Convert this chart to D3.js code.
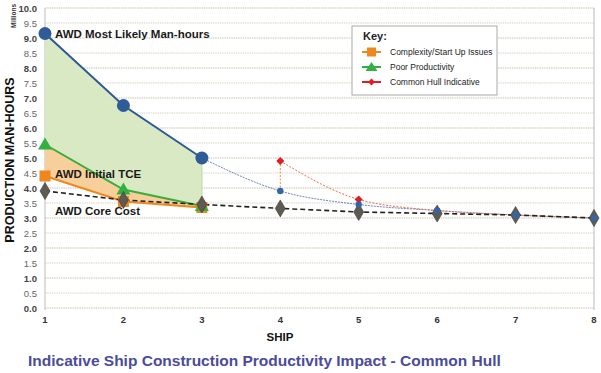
<!DOCTYPE html>
<html><head><meta charset="utf-8">
<script src="https://cdn.jsdelivr.net/npm/d3@7/dist/d3.min.js"></script>
<style>body{margin:0;background:#fff}svg{display:block}text{font-family:"Liberation Sans",Arial,sans-serif}</style>
</head><body><svg id="c" width="601" height="373"></svg>
<script>
const ships = [1,2,3,4,5,6,7,8];
const yTicks = [0,0.5,1,1.5,2,2.5,3,3.5,4,4.5,5,5.5,6,6.5,7,7.5,8,8.5,9,9.5,10];
const mostLikely = [9.15,6.75,5.0];
const mostLikelyTail = [5.0,3.9,3.45,3.25,3.1,3.0];
const coreCost = [3.9,3.6,3.45,3.32,3.2,3.15,3.1,3.0];
const complexity = [4.4,3.55,3.35];
const poorProd = [5.45,3.95,3.4];
const commonHull = [4.9,3.62,3.25,3.1,3.0];
const legendLabels = ["Complexity/Start Up Issues","Poor Productivity","Common Hull Indicative"];

const svg = d3.select("#c");
const x = d3.scaleLinear().domain([1,8]).range([45,594]);
const y = d3.scaleLinear().domain([0,10]).range([308,8]);

// gridlines
svg.append("g").selectAll("line").data(yTicks).join("line")
  .attr("x1",45).attr("x2",594).attr("y1",d=>y(d)).attr("y2",d=>y(d))
  .attr("stroke",d=>Number.isInteger(d)?"#c9c3b0":"#d9d4c4").attr("stroke-width",1.2)
  .attr("stroke-dasharray","1.5,0.8");
// y tick labels
svg.append("g").selectAll("text").data(yTicks).join("text")
  .attr("x",37).attr("y",d=>y(d)+3.5).attr("text-anchor","end")
  .attr("font-size",9.5).attr("font-weight",d=>Number.isInteger(d)?"bold":"normal")
  .attr("fill",d=>Number.isInteger(d)?"#444":"#666").text(d=>d.toFixed(1));
// x tick labels
svg.append("g").selectAll("text").data(ships).join("text")
  .attr("x",d=>x(d)).attr("y",323).attr("text-anchor","middle")
  .attr("font-size",9.5).attr("font-weight","bold").attr("fill","#333").text(d=>d);
// axes frame
svg.append("line").attr("x1",45).attr("x2",45).attr("y1",8).attr("y2",310).attr("stroke","#bbb");
svg.append("line").attr("x1",594).attr("x2",594).attr("y1",8).attr("y2",310).attr("stroke","#bbb");

// areas
const first3 = [1,2,3];
const areaG = d3.area().x((d,i)=>x(first3[i])).y0((d,i)=>y(poorProd[i])).y1(d=>y(d));
svg.append("path").datum(mostLikely).attr("d",areaG).attr("fill","#d7e8c0").attr("opacity",0.95);
const areaO = d3.area().x((d,i)=>x(first3[i])).y0((d,i)=>y(complexity[i])).y1(d=>y(d));
svg.append("path").datum(poorProd).attr("d",areaO).attr("fill","#f7cf9b");
svg.append("line").attr("x1",x(3)).attr("x2",x(3)).attr("y1",y(5.0)).attr("y2",y(3.4)).attr("stroke","#c8e0b0").attr("stroke-width",1.5);

// tail lines
const tailX = [3,4,5,6,7,8];
svg.append("path").datum(mostLikelyTail)
  .attr("d",d3.line().x((d,i)=>x(tailX[i])).y(d=>y(d)).curve(d3.curveMonotoneX))
  .attr("fill","none").attr("stroke","#6f86c0").attr("stroke-width",1).attr("stroke-dasharray","2,1");
const hullX = [4,5,6,7,8];
svg.append("path").datum(commonHull)
  .attr("d",d3.line().x((d,i)=>x(hullX[i])).y(d=>y(d)).curve(d3.curveMonotoneX))
  .attr("fill","none").attr("stroke","#f0704a").attr("stroke-width",1).attr("stroke-dasharray","2,1.5");
svg.append("line").attr("x1",x(4)).attr("x2",x(4)).attr("y1",y(mostLikelyTail[1])).attr("y2",y(commonHull[0]))
  .attr("stroke","#f08a3a").attr("stroke-width",1).attr("stroke-dasharray","2,1.5");

// main lines
const lineF = d3.line().x((d,i)=>x(first3[i])).y(d=>y(d));
svg.append("path").datum(complexity).attr("d",lineF).attr("fill","none").attr("stroke","#f0861e").attr("stroke-width",2);
svg.append("path").datum(poorProd).attr("d",lineF).attr("fill","none").attr("stroke","#3aac3a").attr("stroke-width",2);
svg.append("path").datum(mostLikely).attr("d",lineF).attr("fill","none").attr("stroke","#2f5896").attr("stroke-width",2);
svg.append("path").datum(coreCost).attr("d",d3.line().x((d,i)=>x(ships[i])).y(d=>y(d)))
  .attr("fill","none").attr("stroke","#222").attr("stroke-width",1.6).attr("stroke-dasharray","5,3");

// markers
function diamond(w,h){return `M0,${-h/2}L${w/2},0L0,${h/2}L${-w/2},0Z`;}
svg.append("g").selectAll("rect").data(complexity).join("rect")
  .attr("x",(d,i)=>x(first3[i])-5.5).attr("y",d=>y(d)-5.5).attr("width",11).attr("height",11).attr("fill","#f0861e");
svg.append("g").selectAll("path").data(poorProd).join("path")
  .attr("transform",(d,i)=>`translate(${x(first3[i])},${y(d)})`)
  .attr("d","M0,-7L7,5L-7,5Z").attr("fill","#33b040");
svg.append("g").selectAll("path").data(commonHull).join("path")
  .attr("transform",(d,i)=>`translate(${x(hullX[i])},${y(d)})`)
  .attr("d",diamond(8,8)).attr("fill","#e31b23");
svg.append("g").selectAll("path").data(coreCost).join("path")
  .attr("transform",(d,i)=>`translate(${x(ships[i])},${y(d)})`)
  .attr("d",diamond(10,17)).attr("fill","#5e5a54").attr("stroke","#3c3a36").attr("stroke-width",0.6);
svg.append("g").selectAll("circle").data(mostLikelyTail.slice(1)).join("circle")
  .attr("cx",(d,i)=>x(tailX[i+1])).attr("cy",d=>y(d)).attr("r",3.2).attr("fill","#3465a4");
svg.append("g").selectAll("circle").data(mostLikely).join("circle")
  .attr("cx",(d,i)=>x(first3[i])).attr("cy",d=>y(d)).attr("r",6.5).attr("fill","#2f5c99");

// annotations
const ann = [["AWD Most Likely Man-hours",mostLikely[0],4],["AWD Initial TCE",complexity[0],2],["AWD Core Cost",3.0,-3.5]];
svg.append("g").selectAll("text").data(ann).join("text")
  .attr("x",55).attr("y",d=>y(d[1])+d[2]).attr("font-size",11.5).attr("font-weight","bold")
  .attr("fill","#1a1a1a").text(d=>d[0]);

// legend
const lg = svg.append("g");
lg.append("rect").attr("x",352).attr("y",26).attr("width",145).attr("height",69).attr("fill","#fff").attr("stroke","#aaa");
lg.append("text").attr("x",363).attr("y",40).attr("font-size",11).attr("font-weight","bold").attr("fill","#222").text("Key:");
const lcol = ["#f0861e","#33b040","#e31b23"];
legendLabels.forEach((t,i)=>{
  const yy = 52 + i*15;
  lg.append("line").attr("x1",362).attr("x2",381).attr("y1",yy).attr("y2",yy).attr("stroke",lcol[i]).attr("stroke-width",2);
  const m = lg.append("path").attr("transform",`translate(371.5,${yy})`).attr("fill",lcol[i]);
  if(i===0) m.attr("d","M-4.5,-4.5H4.5V4.5H-4.5Z");
  else if(i===1) m.attr("d","M0,-5L6,4L-6,4Z");
  else m.attr("d",diamond(7,7));
  lg.append("text").attr("x",390).attr("y",yy+3).attr("font-size",8.5).attr("fill","#222").text(t);
});

// axis titles
svg.append("text").attr("transform","translate(16,16) rotate(-90)").attr("text-anchor","middle")
  .attr("font-size",6.5).attr("font-weight","bold").attr("fill","#333").text("Millions");
svg.append("text").attr("transform","translate(14,160) rotate(-90)").attr("text-anchor","middle")
  .attr("font-size",12.5).attr("font-weight","bold").attr("fill","#111").text("PRODUCTION MAN-HOURS");
svg.append("text").attr("x",280).attr("y",341).attr("text-anchor","middle")
  .attr("font-size",11.5).attr("font-weight","bold").attr("fill","#111").text("SHIP");
svg.append("text").attr("x",28).attr("y",366)
  .attr("font-size",15.5).attr("font-weight","bold").attr("fill","#4b4b9b").text("Indicative Ship Construction Productivity Impact - Common Hull");
</script></body></html>
